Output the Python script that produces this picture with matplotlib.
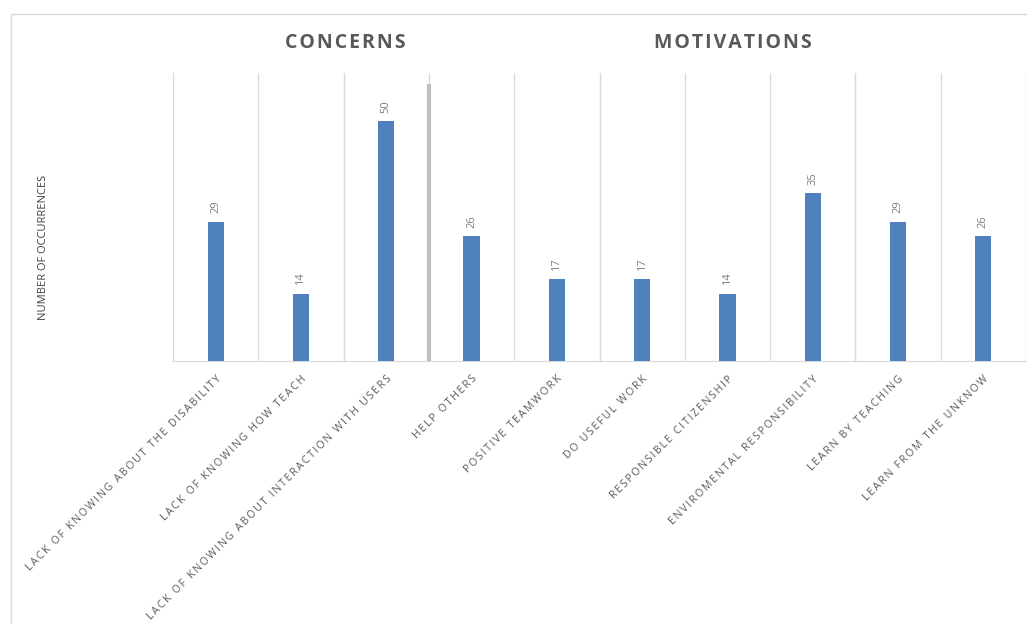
import matplotlib.pyplot as plt
from matplotlib.patches import Rectangle
import numpy as np

plt.rcParams['font.family'] = ['Open Sans', 'DejaVu Sans']

# data
categories = ['LACK OF KNOWING ABOUT THE DISABILITY', 'LACK OF KNOWING HOW TEACH',
              'LACK OF KNOWING ABOUT INTERACTION WITH USERS', 'HELP OTHERS',
              'POSITIVE TEAMWORK', 'DO USEFUL WORK', 'RESPONSIBLE CITIZENSHIP',
              'ENVIROMENTAL RESPONSIBILITY', 'LEARN BY TEACHING', 'LEARN FROM THE UNKNOW']
values = [29, 14, 50, 26, 17, 17, 14, 35, 29, 26]
group_titles = ['CONCERNS', 'MOTIVATIONS']

bar_color = '#4f81bd'
text_grey = '#595959'
line_grey = '#d9d9d9'


def spaced(s, sp='\u200a'):
    return sp.join(s)


fig = plt.figure(figsize=(10.27, 6.24), dpi=100)

# outer frame of the chart area
fig.patches.append(Rectangle((11/1027, -0.1), 1.2, 1 - 14/624 + 0.1,
                             transform=fig.transFigure, fill=False,
                             edgecolor=line_grey, linewidth=1))

ax = fig.add_axes([173/1027, 1 - 361/624, 853/1027, 288/624])
x = np.arange(len(categories))
ax.bar(x, values, width=0.19, color=bar_color, zorder=3)

for xi, v in zip(x, values):
    ax.annotate(str(v), (xi, v), xytext=(0, 6), textcoords='offset points',
                rotation=90, ha='center', va='bottom', fontsize=8, color='#7f7f7f')

ax.set_xlim(-0.5, len(categories) - 0.5)
ax.set_ylim(0, 60)
ax.set_xticks(x)
ax.set_xticklabels([spaced(c, '\u2009') for c in categories],
                   rotation=45, ha='right', rotation_mode='anchor',
                   fontsize=7.6, color=text_grey)
ax.tick_params(axis='x', length=0, pad=9)
ax.set_yticks([])
ax.set_xticks(np.arange(-0.5, len(categories)), minor=True)
ax.tick_params(axis='x', which='minor', length=0)
ax.grid(True, which='minor', axis='x', color=line_grey, linewidth=1)
for s in ['top', 'right', 'left']:
    ax.spines[s].set_visible(False)
ax.spines['bottom'].set_color(line_grey)

# divider between concerns and motivations
ax.vlines(2.5, 0, 57.7, color='#bfbfbf', linewidth=3, zorder=4)

fig.text(44/1027, 1 - 247/624, 'NUMBER OF OCCURRENCES', rotation=90,
         ha='center', va='center', fontsize=8, color='#404040')
fig.text(345/1027, 1 - 43/624, spaced(group_titles[0]), ha='center', va='center',
         fontsize=14, fontweight='bold', color=text_grey)
fig.text(733/1027, 1 - 43/624, spaced(group_titles[1]), ha='center', va='center',
         fontsize=14, fontweight='bold', color=text_grey)

fig.savefig('out.png', dpi=100)
